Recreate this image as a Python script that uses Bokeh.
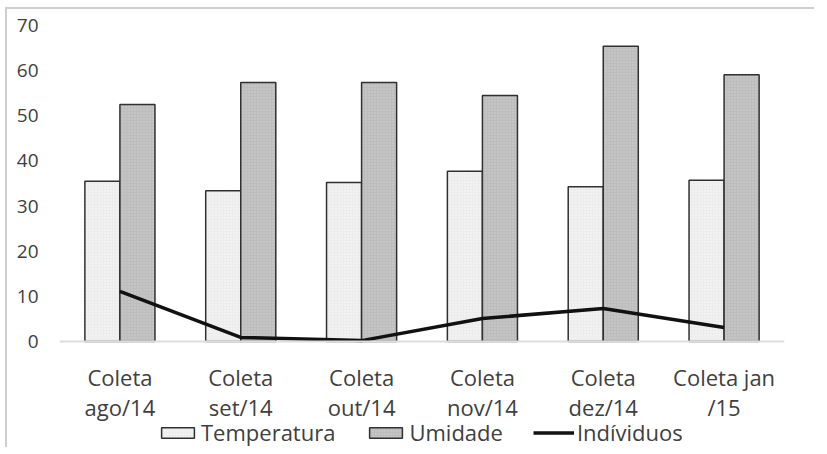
from bokeh.plotting import figure
from bokeh.models import Range1d, FactorRange, FixedTicker, Legend, LegendItem, Span, ColumnDataSource
from bokeh.core.properties import value
from bokeh.transform import dodge
from bokeh.embed import file_html
from bokeh.resources import INLINE

categories = ["Coleta\nago/14", "Coleta\nset/14", "Coleta\nout/14",
              "Coleta\nnov/14", "Coleta\ndez/14", "Coleta jan\n/15"]
temperatura = [35.5, 33.4, 35.2, 37.7, 34.3, 35.7]
umidade = [52.5, 57.4, 57.4, 54.5, 65.4, 59.1]
individuos = [11.1, 0.9, 0.2, 5.1, 7.3, 3.1]
y_ticks = [0, 10, 20, 30, 40, 50, 60, 70]

FONT = "Open Sans"
TXT = "#404040"

# layout: 70 units span 316 px; frame extends 106 px below zero for labels + legend
PX_PER_UNIT = 316 / 70
Y_MIN = -106 / PX_PER_UNIT
LABEL_Y = -50.5 / PX_PER_UNIT

src = ColumnDataSource(dict(cat=categories, temp=temperatura, umi=umidade, ind=individuos,
                            ly=[LABEL_Y] * len(categories)))

p = figure(x_range=FactorRange(*categories), y_range=Range1d(Y_MIN, 70),
           frame_width=725, frame_height=422,
           min_border_left=52, min_border_right=30, min_border_top=16, min_border_bottom=0,
           output_backend="svg", toolbar_location=None)
p.styles = {"border-top": "2px solid #cfcfcf", "border-left": "2px solid #cfcfcf",
            "margin-left": "5px", "margin-top": "7px"}

p.xgrid.visible = False
p.ygrid.visible = False
p.outline_line_color = None
p.xaxis.visible = False

r_temp = p.vbar(x=dodge("cat", -0.145, range=p.x_range), top="temp", width=0.29, source=src,
                fill_color="#ececec", line_color="#303030", line_width=1.5,
                hatch_pattern="dot", hatch_color="#ffffff", hatch_scale=3, hatch_alpha=0.8)
r_umi = p.vbar(x=dodge("cat", 0.145, range=p.x_range), top="umi", width=0.29, source=src,
               fill_color="#bdbdbd", line_color="#303030", line_width=1.5,
               hatch_pattern="dot", hatch_color="#d8d8d8", hatch_scale=3, hatch_alpha=0.8)
zero = Span(location=0, dimension="width", line_color="#dddddd", line_width=2)
p.add_layout(zero)
r_ind = p.line(x="cat", y="ind", source=src, line_color="#111111", line_width=3.5)

# category labels (two lines each)
p.text(x="cat", y="ly", text="cat", source=src, text_align="center", text_baseline="middle",
       text_font=value(FONT), text_font_size="22px", text_color=TXT, text_line_height=0.98)

yax = p.yaxis[0]
yax.ticker = FixedTicker(ticks=y_ticks)
yax.axis_line_color = None
yax.major_tick_line_color = None
yax.minor_tick_line_color = None
yax.major_label_standoff = 15
yax.major_label_text_font = FONT
yax.major_label_text_font_size = "19px"
yax.major_label_text_color = TXT

legend = Legend(items=[LegendItem(label="Temperatura", renderers=[r_temp]),
                       LegendItem(label="Umidade", renderers=[r_umi]),
                       LegendItem(label="Indíviduos", renderers=[r_ind])],
                orientation="horizontal", location=(98, 0),
                padding=0, margin=0, spacing=30, label_standoff=3,
                glyph_width=41, glyph_height=13, label_height=20,
                label_text_font=FONT, label_text_font_size="22px", label_text_color=TXT,
                border_line_alpha=0, background_fill_alpha=0)
p.add_layout(legend)

open("out.html", "w").write(file_html(p, INLINE))
